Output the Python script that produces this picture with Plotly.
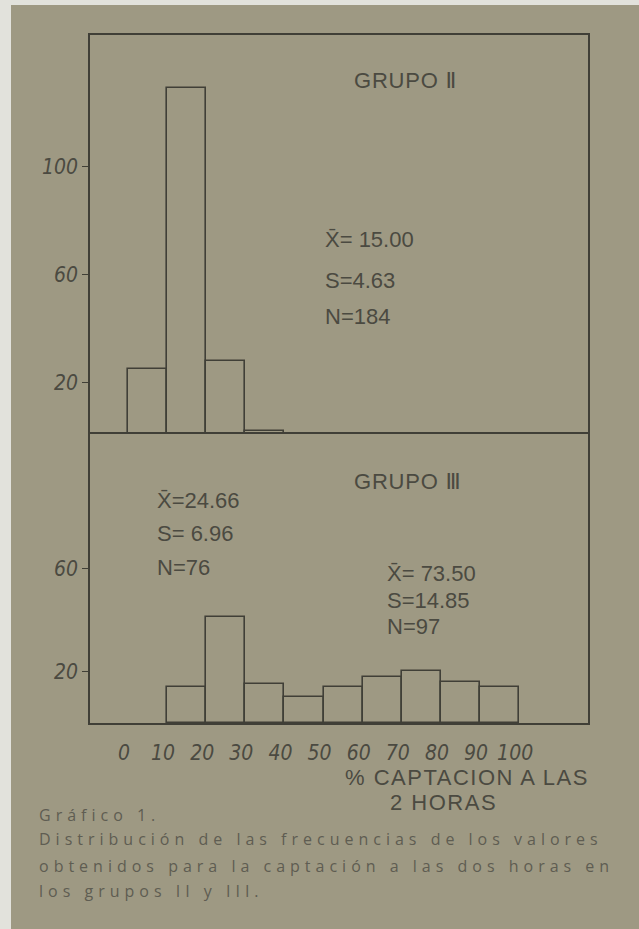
import plotly.graph_objects as go
from plotly.subplots import make_subplots

# ---------------- data ----------------
grupo2_bins = [0, 10, 20, 30]
grupo2_freq = [25, 129, 28, 2]
grupo3_bins = [10, 20, 30, 40, 50, 60, 70, 80, 90]
grupo3_freq = [14, 41, 15, 10, 14, 18, 20, 16, 14]
bin_width = 10

x_ticks = [0, 10, 20, 30, 40, 50, 60, 70, 80, 90, 100]
y_ticks_top = [20, 60, 100]
y_ticks_bottom = [20, 60]

stats_g2 = ["X\u0304= 15.00", "S=4.63", "N=184"]
stats_g3a = ["X\u0304=24.66", "S= 6.96", "N=76"]
stats_g3b = ["X\u0304= 73.50", "S=14.85", "N=97"]
title_g2 = "GRUPO \u2161"
title_g3 = "GRUPO \u2162"
axis_title_1 = "% CAPTACION A LAS"
axis_title_2 = "2 HORAS"
caption = [
    "Gráfico 1.",
    "Distribución de las frecuencias de los valores",
    "obtenidos para la captación a las dos horas en",
    "los grupos II y III.",
]

# ---------------- style ----------------
W, H = 639, 929
ML, MR, MT, MB = 90, 51, 35, 206
PW, PH = W - ML - MR, H - MT - MB
BG = "#9e9983"
INK = "#403f37"
TXT = "#4b4a41"
CAP = "#5f5d52"
HAND = "Liberation Sans Narrow, DejaVu Sans Condensed, Liberation Sans, sans-serif"
HAND2 = "Liberation Sans, DejaVu Sans, sans-serif"


def px(xp):
    return (xp - ML) / PW


def py(yp):
    return (H - MB - yp) / PH


split = py(434)

fig = make_subplots(rows=2, cols=1, shared_xaxes=True, vertical_spacing=0,
                    row_heights=[1 - split, split])

fig.add_trace(go.Bar(
    x=[b + bin_width / 2 for b in grupo2_bins], y=grupo2_freq, width=bin_width,
    marker=dict(color="rgba(0,0,0,0)", line=dict(color=INK, width=1.6)),
    showlegend=False, hoverinfo="skip"), row=1, col=1)

fig.add_trace(go.Bar(
    x=[b + bin_width / 2 for b in grupo3_bins], y=grupo3_freq, width=bin_width,
    marker=dict(color="rgba(0,0,0,0)", line=dict(color=INK, width=1.6)),
    showlegend=False, hoverinfo="skip"), row=2, col=1)

xr = [-9.7, 117.6]
axis_common = dict(showline=True, linecolor=INK, linewidth=1.6,
                   showgrid=False, zeroline=False)
fig.update_xaxes(range=xr, **axis_common)
# top panel: only the top border (the shared divider comes from the lower panel)
fig.update_xaxes(showticklabels=False, ticks="", side="top", mirror=False, row=1, col=1)
fig.update_xaxes(mirror=True, tickvals=x_ticks, ticktext=[str(v) for v in x_ticks], ticks="",
                 tickfont=dict(family=HAND, size=21, color=TXT, style="italic"),
                 ticklabelstandoff=10, ticklabelshift=-4, row=2, col=1)

yfont = dict(family=HAND, size=21, color=TXT, style="italic")
fig.update_yaxes(range=[1, 148.5], tickvals=y_ticks_top, ticks="outside", ticklen=6, mirror=True,
                 tickcolor=INK, tickwidth=1.3, tickfont=yfont, **axis_common, row=1, col=1)
fig.update_yaxes(range=[0, 112], tickvals=y_ticks_bottom, ticks="outside", ticklen=6, mirror=True,
                 tickcolor=INK, tickwidth=1.3, tickfont=yfont, **axis_common, row=2, col=1)

ann = []


def add_text(t, xp, yp, size=20, color=TXT, family=HAND2, spacing=None):
    if spacing is not None:
        t = '<span style="letter-spacing:%spx">%s</span>' % (spacing, t)
    ann.append(dict(text=t, x=px(xp), y=py(yp), xref="paper", yref="paper",
                    xanchor="left", yanchor="middle", showarrow=False,
                    font=dict(family=family, size=size, color=color)))


add_text(title_g2, 352, 80, size=22, spacing=0.8)
for t, yy in zip(stats_g2, [240, 280, 317]):
    add_text(t, 323, yy, size=22)
add_text(title_g3, 352, 482, size=22, spacing=0.8)
for t, yy in zip(stats_g3a, [500, 533, 567]):
    add_text(t, 155, yy, size=22)
for t, yy in zip(stats_g3b, [573, 600, 626]):
    add_text(t, 385, yy, size=22)
add_text(axis_title_1, 343, 777, size=22, spacing=1.5)
add_text(axis_title_2, 388, 802, size=22, spacing=1.5)
for t, yy in zip(caption, [815, 839, 866, 891]):
    add_text(t, 37, yy, size=16, color=CAP,
             family="Open Sans, DejaVu Sans, sans-serif", spacing=5.0)

shapes = [
    dict(type="rect", xref="paper", yref="paper", x0=px(0), x1=px(11), y0=py(0), y1=py(H),
         fillcolor="#e2e2dc", line=dict(width=0), layer="below"),
    dict(type="rect", xref="paper", yref="paper", x0=px(0), x1=px(W), y0=py(0), y1=py(5),
         fillcolor="#e2e2dc", line=dict(width=0), layer="below"),
]

fig.update_layout(width=W, height=H, margin=dict(l=ML, r=MR, t=MT, b=MB),
                  paper_bgcolor=BG, plot_bgcolor=BG, bargap=0,
                  annotations=ann, shapes=shapes, showlegend=False)

fig.write_html("out.html", config={"displayModeBar": False},
               post_script="document.body.style.margin='0px';document.body.style.overflow='hidden';")
